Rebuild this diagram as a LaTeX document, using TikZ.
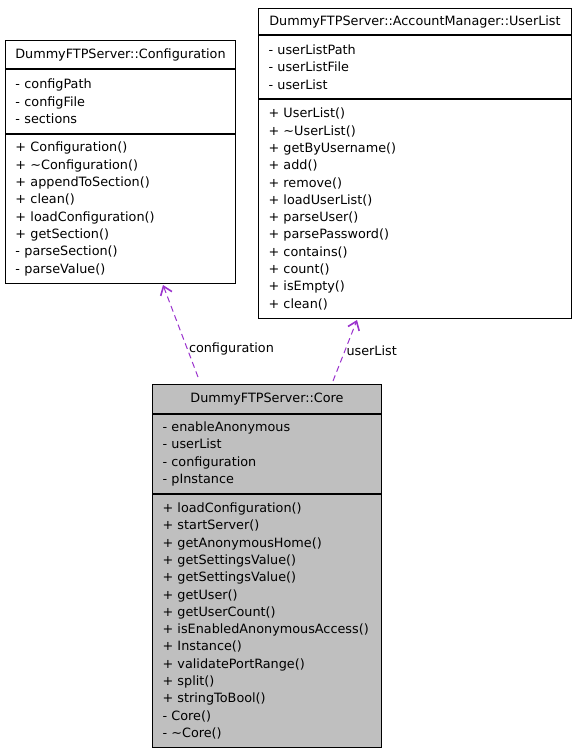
\documentclass[tikz,border=0pt]{standalone}
\usepackage{fontspec}
\setmainfont{DejaVu Sans}
\usetikzlibrary{arrows.meta,positioning}
\definecolor{Edge}{HTML}{9A32CD}
\definecolor{CoreFill}{HTML}{BFBFBF}

\begin{document}
\begin{tikzpicture}[x=1pt,y=1pt,
    head/.style={rectangle,draw=black,line width=1pt,anchor=north west,inner sep=0pt,align=center,font=\fontsize{12.8}{17.3}\selectfont},
    part/.style={rectangle,draw=black,line width=1pt,anchor=north west,inner xsep=10pt,inner ysep=0pt,align=left,font=\fontsize{12.8}{17.3}\selectfont},
    link/.style={-{Straight Barb[length=8pt,width=12pt,line width=1.6pt]},dash pattern=on 6pt off 4pt,draw=Edge,line width=1pt},
    lbl/.style={font=\fontsize{12.8}{14}\selectfont,inner sep=1pt,anchor=west}
]
\useasboundingbox (0,0) rectangle (576,-752);
% Configuration
\node[head,minimum width=230pt,minimum height=28pt] (cfg) at (5,-40) {DummyFTPServer::Configuration};
\node[part,text width=210pt,minimum height=64pt] (cfgattr) at (cfg.south west) {- configPath\\- configFile\\- sections};
\node[part,text width=210pt,minimum height=149pt] (cfgops) at (cfgattr.south west) {+ Configuration()\\+ \textasciitilde Configuration()\\+ appendToSection()\\+ clean()\\+ loadConfiguration()\\+ getSection()\\- parseSection()\\- parseValue()};
% UserList
\node[head,minimum width=313pt,minimum height=26pt] (ul) at (258,-8) {DummyFTPServer::AccountManager::UserList};
\node[part,text width=293pt,minimum height=63pt] (ulattr) at (ul.south west) {- userListPath\\- userListFile\\- userList};
\node[part,text width=293pt,minimum height=219pt] (ulops) at (ulattr.south west) {+ UserList()\\+ \textasciitilde UserList()\\+ getByUsername()\\+ add()\\+ remove()\\+ loadUserList()\\+ parseUser()\\+ parsePassword()\\+ contains()\\+ count()\\+ isEmpty()\\+ clean()};
% Core
\node[head,fill=CoreFill,minimum width=229pt,minimum height=29pt] (core) at (152,-384) {DummyFTPServer::Core};
\node[part,fill=CoreFill,text width=209pt,minimum height=79pt] (coreattr) at (core.south west) {- enableAnonymous\\- userList\\- configuration\\- pInstance};
\node[part,fill=CoreFill,text width=209pt,minimum height=253pt] (coreops) at (coreattr.south west) {+ loadConfiguration()\\+ startServer()\\+ getAnonymousHome()\\+ getSettingsValue()\\+ getSettingsValue()\\+ getUser()\\+ getUserCount()\\+ isEnabledAnonymousAccess()\\+ Instance()\\+ validatePortRange()\\+ split()\\+ stringToBool()\\- Core()\\- \textasciitilde Core()};
% usage edges
\draw[link] ([xshift=46pt,yshift=7pt]core.north west) -- node[lbl,pos=0.3] {configuration} ([xshift=158pt,yshift=-1pt]cfgops.south west);
\draw[link] ([xshift=181pt,yshift=3pt]core.north west) -- node[lbl,pos=0.5] {userList} ([xshift=99pt,yshift=-1pt]ulops.south west);
\end{tikzpicture}
\end{document}
